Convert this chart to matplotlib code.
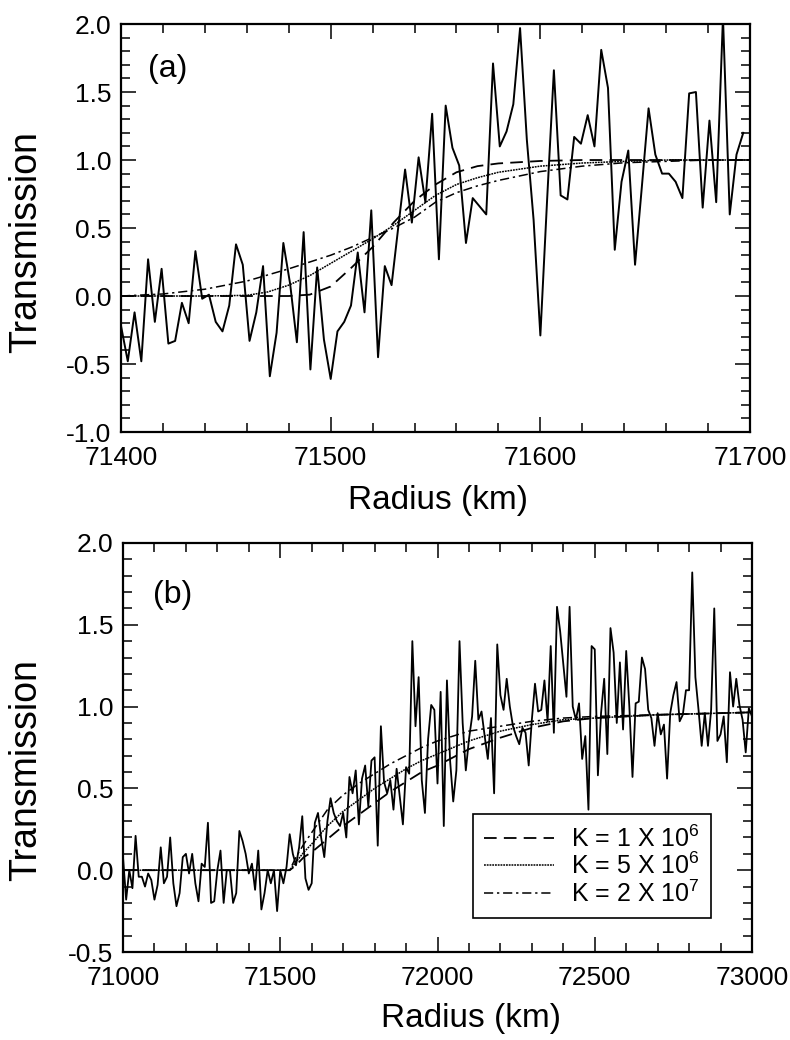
import numpy as np
import matplotlib
matplotlib.use('Agg')
import matplotlib.pyplot as plt
from matplotlib.ticker import MultipleLocator
from matplotlib import font_manager

# ---------------- data ----------------
# panel (a): measured transmission, sampled every 100/31 km from 71400 km
a_start = 71400.0
a_step = 100.0 / 31.0
trans_a = [-0.22, -0.48, -0.12, -0.48, 0.27, -0.19, 0.20, -0.35, -0.33, -0.05,
           -0.20, 0.33, -0.02, 0.01, -0.19, -0.26, -0.07, 0.38, 0.23, -0.33,
           -0.12, 0.22, -0.59, -0.27, 0.39, 0.09, -0.34, 0.47, -0.54, 0.21,
           -0.32, -0.61, -0.26, -0.19, -0.07, 0.32, -0.12, 0.63, -0.45, 0.22,
           0.08, 0.51, 0.93, 0.54, 1.02, 0.69, 1.34, 0.27, 1.40, 1.09,
           0.96, 0.39, 0.72, 0.66, 0.60, 1.71, 1.10, 1.21, 1.41, 1.97,
           1.15, 0.56, -0.29, 0.71, 1.66, 0.74, 0.71, 1.17, 1.12, 1.33,
           1.10, 1.81, 1.53, 0.34, 0.84, 1.07, 0.23, 0.80, 1.38, 1.04,
           0.90, 0.90, 0.84, 0.72, 1.49, 1.50, 0.65, 1.29, 0.69, 2.05,
           0.60, 1.04, 1.20]

# panel (a): model curves
model_r_a = [71400, 71420, 71440, 71460, 71470, 71480, 71490, 71500, 71510, 71520,
             71530, 71540, 71550, 71560, 71570, 71580, 71600, 71620, 71640, 71660,
             71680, 71700]
k1e6_a = [0, 0, 0, 0, 0, 0, 0.01, 0.07, 0.21, 0.36,
          0.54, 0.70, 0.82, 0.91, 0.955, 0.975, 0.993, 1.0, 1.0, 1.0,
          1.0, 1.0]
k5e6_a = [0, 0, 0, 0.005, 0.03, 0.08, 0.15, 0.24, 0.33, 0.42,
          0.52, 0.63, 0.74, 0.82, 0.87, 0.91, 0.955, 0.978, 0.99, 1.0,
          1.0, 1.0]
k2e7_a = [0, 0.015, 0.05, 0.11, 0.155, 0.20, 0.25, 0.30, 0.36, 0.43,
          0.50, 0.58, 0.69, 0.76, 0.81, 0.85, 0.915, 0.955, 0.98, 0.99,
          1.0, 1.0]

# panel (b): measured transmission, sampled every 10 km from 71000 km
b_start = 71000.0
b_step = 10.0
trans_b = [
    # 71000 - 71520
    0.08, -0.18, 0.00, -0.11, 0.21, -0.04, -0.04, -0.10, -0.02, -0.06,
    -0.18, -0.09, 0.14, -0.08, -0.04, 0.20, -0.08, -0.22, -0.14, 0.08,
    0.10, -0.02, 0.10, -0.08, -0.19, 0.04, 0.02, 0.29, -0.20, -0.19,
    0.00, 0.12, -0.20, 0.00, 0.00, -0.20, -0.14, 0.24, 0.18, 0.10,
    -0.02, 0.04, -0.12, 0.12, -0.24, -0.14, 0.00, -0.08, 0.00, -0.25,
    0.00, -0.08, 0.02,
    # 71530 - 72010
    0.22, 0.10, 0.03, 0.14, 0.33, -0.05, -0.12, -0.08, 0.29, 0.35,
    0.20, 0.08, 0.30, 0.44, 0.35, 0.30, 0.27, 0.35, 0.20, 0.57,
    0.47, 0.61, 0.28, 0.56, 0.64, 0.39, 0.67, 0.69, 0.15, 0.88,
    0.54, 0.47, 0.55, 0.37, 0.62, 0.45, 0.28, 0.63, 0.59, 1.40,
    0.88, 1.18, 0.55, 0.35, 0.80, 1.01, 0.98, 0.53, 1.09,
    # 72020 - 72030
    0.27, 1.16,
    # 72040 - 72530
    0.67, 0.42, 0.61, 1.40, 0.90, 0.61, 0.80, 0.94, 1.28, 0.92,
    0.97, 0.82, 0.68, 0.93, 0.47, 1.38, 1.07, 0.98, 1.17, 1.00,
    0.88, 0.82, 0.77, 0.87, 0.84, 0.64, 0.92, 1.14, 0.97, 0.98,
    1.16, 0.91, 1.37, 0.84, 1.61, 1.46, 1.26, 1.06, 1.61, 1.00,
    0.92, 1.02, 0.68, 0.82, 0.37, 1.37, 1.35, 0.58, 0.96, 1.17,
    # 72540 - 73000
    0.71, 1.48, 1.33, 0.90, 1.27, 0.86, 1.34, 1.00, 0.57, 1.02,
    1.03, 1.30, 1.23, 0.98, 0.93, 0.76, 0.96, 0.83, 0.89, 0.56,
    0.96, 1.07, 1.15, 0.91, 0.95, 1.10, 1.10, 1.82, 1.18, 0.98,
    0.76, 0.96, 0.76, 0.98, 1.60, 0.79, 0.83, 0.94, 0.66, 1.21,
    1.00, 1.17, 1.01, 0.92, 0.72, 0.99, 0.94]

# panel (b): model curves
model_r_b = [71000, 71530, 71550, 71575, 71600, 71650, 71700, 71750, 71800, 71850,
             71900, 71950, 72000, 72100, 72200, 72300, 72400, 72500, 72600, 72700,
             72800, 72900, 73000]
k1e6_b = [0, 0, 0.03, 0.08, 0.11, 0.19, 0.27, 0.34, 0.41, 0.48,
          0.54, 0.60, 0.64, 0.74, 0.81, 0.87, 0.91, 0.93, 0.94, 0.95,
          0.955, 0.96, 0.965]
k5e6_b = [0, 0, 0.05, 0.11, 0.16, 0.27, 0.36, 0.43, 0.50, 0.56,
          0.62, 0.67, 0.71, 0.79, 0.85, 0.89, 0.92, 0.93, 0.94, 0.95,
          0.955, 0.96, 0.965]
k2e7_b = [0, 0, 0.08, 0.16, 0.23, 0.37, 0.46, 0.53, 0.59, 0.65,
          0.70, 0.75, 0.79, 0.85, 0.88, 0.91, 0.93, 0.94, 0.945, 0.95,
          0.955, 0.96, 0.965]

legend_labels = [r'K = 1 X 10$^{6}$', r'K = 5 X 10$^{6}$', r'K = 2 X 10$^{7}$']

xticks_a = [71400, 71500, 71600, 71700]
xticklabels_a = ['71400', '71500', '71600', '71700']
yticks_a = [-1.0, -0.5, 0.0, 0.5, 1.0, 1.5, 2.0]
yticklabels_a = ['-1.0', '-0.5', '0.0', '0.5', '1.0', '1.5', '2.0']
xticks_b = [71000, 71500, 72000, 72500, 73000]
xticklabels_b = ['71000', '71500', '72000', '72500', '73000']
yticks_b = [-0.5, 0.0, 0.5, 1.0, 1.5, 2.0]
yticklabels_b = ['-0.5', '0.0', '0.5', '1.0', '1.5', '2.0']

# ---------------- fonts ----------------
avail = {f.name for f in font_manager.fontManager.ttflist}


def pick(*names):
    for n in names:
        if n in avail:
            return n
    return 'DejaVu Sans'


SANS = pick('Liberation Sans', 'Arimo', 'DejaVu Sans')
NARROW = pick('Liberation Sans Narrow', SANS)

plt.rcParams['font.family'] = [SANS, 'DejaVu Sans']
plt.rcParams['mathtext.fontset'] = 'custom'
plt.rcParams['mathtext.rm'] = SANS
plt.rcParams['mathtext.it'] = SANS
plt.rcParams['mathtext.bf'] = SANS

DASHED = (0, (7, 4))
DOTTED = (0, (1.2, 0.6))
DASHDOT = (0, (6, 2.5, 1.5, 2.5))

fig = plt.figure(figsize=(7.9, 10.4), dpi=100)
axA = fig.add_axes([0.1532, 0.5846, 0.7962, 0.3923])
axB = fig.add_axes([0.1557, 0.0846, 0.7962, 0.3933])

radius_a = a_start + a_step * np.arange(len(trans_a))
radius_b = b_start + b_step * np.arange(len(trans_b))


def style(ax, xt, xtl, yt, ytl, xminor, xlim, ylim):
    ax.set_xlim(*xlim)
    ax.set_ylim(*ylim)
    for s in ax.spines.values():
        s.set_linewidth(1.6)
    ax.set_xticks(xt)
    ax.set_xticklabels(xtl, fontfamily=NARROW, fontsize=19)
    ax.set_yticks(yt)
    ax.set_yticklabels(ytl, fontsize=19)
    ax.xaxis.set_minor_locator(MultipleLocator(xminor))
    ax.yaxis.set_minor_locator(MultipleLocator(0.1))
    ax.tick_params(which='both', direction='in', top=True, right=True,
                   width=1.1, color='black')
    ax.tick_params(which='major', length=11)
    ax.tick_params(which='minor', length=6.5)
    ax.tick_params(axis='y', pad=7)
    ax.tick_params(axis='x', pad=10)


# panel (a)
axA.plot(radius_a, trans_a, color='black', lw=1.4)
axA.plot(model_r_a, k1e6_a, color='black', lw=1.3, linestyle=DASHED)
axA.plot(model_r_a, k5e6_a, color='black', lw=1.1, linestyle=DOTTED)
axA.plot(model_r_a, k2e7_a, color='black', lw=1.1, linestyle=DASHDOT)
style(axA, xticks_a, xticklabels_a, yticks_a, yticklabels_a, 20,
      (71400, 71700), (-1.0, 2.0))
axA.set_xlabel('Radius (km)', fontsize=24, va='center')
axA.xaxis.set_label_coords(0.504, -0.167)
axA.set_ylabel('Transmission', fontsize=27, va='center')
axA.yaxis.set_label_coords(-0.151, 0.466)
axA.text(0.043, 0.89, '(a)', transform=axA.transAxes, fontsize=23,
         ha='left', va='center')

# panel (b)
axB.plot(radius_b, trans_b, color='black', lw=1.3)
l1, = axB.plot(model_r_b, k1e6_b, color='black', lw=1.3, linestyle=DASHED)
l2, = axB.plot(model_r_b, k5e6_b, color='black', lw=1.1, linestyle=DOTTED)
l3, = axB.plot(model_r_b, k2e7_b, color='black', lw=1.1, linestyle=DASHDOT)
style(axB, xticks_b, xticklabels_b, yticks_b, yticklabels_b, 100,
      (71000, 73000), (-0.5, 2.0))
axB.set_xlabel('Radius (km)', fontsize=24, va='center')
axB.xaxis.set_label_coords(0.553, -0.163)
axB.set_ylabel('Transmission', fontsize=27, va='center')
axB.yaxis.set_label_coords(-0.154, 0.445)
axB.text(0.048, 0.873, '(b)', transform=axB.transAxes, fontsize=23,
         ha='left', va='center')

leg = axB.legend([l1, l2, l3], legend_labels, loc='lower left',
                 bbox_to_anchor=(0.556, 0.083), frameon=True, fancybox=False,
                 edgecolor='black', framealpha=1, fontsize=18,
                 handlelength=2.8, handletextpad=0.7, labelspacing=0.05,
                 borderpad=0.45, borderaxespad=0)
leg.get_frame().set_linewidth(1.2)

fig.savefig('out.png', dpi=100)
